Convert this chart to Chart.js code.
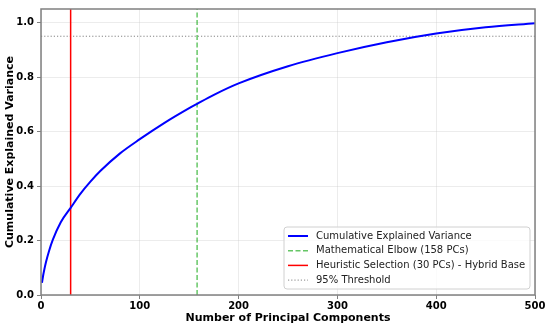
<!DOCTYPE html>
<html>
<head>
<meta charset="utf-8">
<script src="https://cdn.jsdelivr.net/npm/chart.js@4/dist/chart.umd.min.js"></script>
<style>
  html, body { margin: 0; padding: 0; background: #fff; }
  #wrap { width: 550px; height: 329px; }
</style>
</head>
<body>
<div id="wrap"><canvas id="pcaChart" width="550" height="329"></canvas></div>
<script>
// data
const components = [1, 2, 3, 5, 8, 12, 20, 30, 40, 50, 60, 80, 100, 125, 150, 158, 175, 200, 250, 300, 350, 400, 450, 500];
const cumVariance = [0.045, 0.068, 0.087, 0.12, 0.16, 0.203, 0.267, 0.32, 0.372, 0.416, 0.455, 0.52, 0.572, 0.632, 0.686, 0.702, 0.735, 0.777, 0.84, 0.888, 0.928, 0.96, 0.983, 0.998];
const elbowPC = 158;
const heuristicPC = 30;
const threshold = 0.95;
const xTicks = [0, 100, 200, 300, 400, 500];
const yTicks = [0, 0.2, 0.4, 0.6, 0.8, 1.0];
const labels = ['Cumulative Explained Variance', 'Mathematical Elbow (158 PCs)', 'Heuristic Selection (30 PCs) - Hybrid Base', '95% Threshold'];

const FONT = "'DejaVu Sans', sans-serif";

const frameAndLegend = {
    id: 'frameAndLegend',
    afterDraw(chart) {
        const c = chart.ctx, a = chart.chartArea;
        c.save();
        // axes frame
        c.strokeStyle = '#808080';
        c.lineWidth = 1.5;
        c.strokeRect(a.left, a.top, a.right - a.left, a.bottom - a.top);

        // legend box in lower right
        const w = 246, h = 62;
        const x0 = a.right - 5 - w, y0 = a.bottom - 6 - h;
        c.beginPath();
        c.roundRect(x0, y0, w, h, 3);
        c.fillStyle = 'rgba(255,255,255,0.8)';
        c.fill();
        c.strokeStyle = '#d0d0d0';
        c.lineWidth = 1;
        c.stroke();
        c.font = '10px ' + FONT;
        c.textBaseline = 'middle';
        chart.data.datasets.forEach((ds, i) => {
            const y = y0 + 9 + i * 14.7;
            c.beginPath();
            c.setLineDash(ds.borderDash || []);
            c.strokeStyle = ds.borderColor;
            c.lineWidth = ds.borderWidth;
            c.moveTo(x0 + 4, y);
            c.lineTo(x0 + 24, y);
            c.stroke();
            c.setLineDash([]);
            c.fillStyle = '#222';
            c.fillText(ds.label, x0 + 32, y);
        });
        c.restore();
    }
};

const ctx = document.getElementById('pcaChart').getContext('2d');
const chart = new Chart(ctx, {
    type: 'line',
    data: {
        datasets: [{
            label: labels[0],
            data: components.map((x, i) => ({x: x, y: cumVariance[i]})),
            borderColor: '#0000ff',
            borderWidth: 2,
            pointRadius: 0,
            cubicInterpolationMode: 'monotone'
        }, {
            label: labels[1],
            data: [{x: elbowPC, y: 0}, {x: elbowPC, y: 1.1}],
            borderColor: 'rgba(0,160,0,0.6)',
            borderWidth: 1.5,
            borderDash: [5, 2.5],
            pointRadius: 0
        }, {
            label: labels[2],
            data: [{x: heuristicPC, y: 0}, {x: heuristicPC, y: 1.1}],
            borderColor: '#ff0000',
            borderWidth: 1.5,
            pointRadius: 0
        }, {
            label: labels[3],
            data: [{x: 0, y: threshold}, {x: 500, y: threshold}],
            borderColor: 'rgba(100,100,100,0.8)',
            borderWidth: 1,
            borderDash: [1.2, 2],
            pointRadius: 0
        }]
    },
    options: {
        responsive: false,
        animation: false,
        layout: { padding: { left: 0, top: 7, right: 15, bottom: 0 } },
        plugins: {
            legend: { display: false },
            tooltip: { enabled: false }
        },
        scales: {
            x: {
                type: 'linear',
                min: 0,
                max: 500,
                afterFit: s => { s.height = 34; },
                afterBuildTicks: s => { s.ticks = xTicks.map(v => ({value: v})); },
                grid: { color: 'rgba(200,200,200,0.35)', tickColor: '#808080', tickLength: 4 },
                border: { display: false },
                ticks: { color: '#000', padding: 1, maxRotation: 0, font: { family: FONT, size: 10, weight: 'bold' } },
                title: { display: true, text: 'Number of Principal Components', color: '#000', padding: { top: 0, bottom: 4 }, font: { family: FONT, size: 11, weight: 'bold' } }
            },
            y: {
                min: 0,
                max: 1.05,
                afterFit: s => { s.width = 41; },
                afterBuildTicks: s => { s.ticks = yTicks.map(v => ({value: v})); },
                grid: { color: 'rgba(200,200,200,0.35)', tickColor: '#808080', tickLength: 4 },
                border: { display: false },
                ticks: { color: '#000', padding: 3, callback: v => v.toFixed(1), font: { family: FONT, size: 10, weight: 'bold' } },
                title: { display: true, text: 'Cumulative Explained Variance', color: '#000', padding: { top: 4, bottom: 0 }, font: { family: FONT, size: 11, weight: 'bold' } }
            }
        }
    },
    plugins: [frameAndLegend]
});
</script>
</body>
</html>
